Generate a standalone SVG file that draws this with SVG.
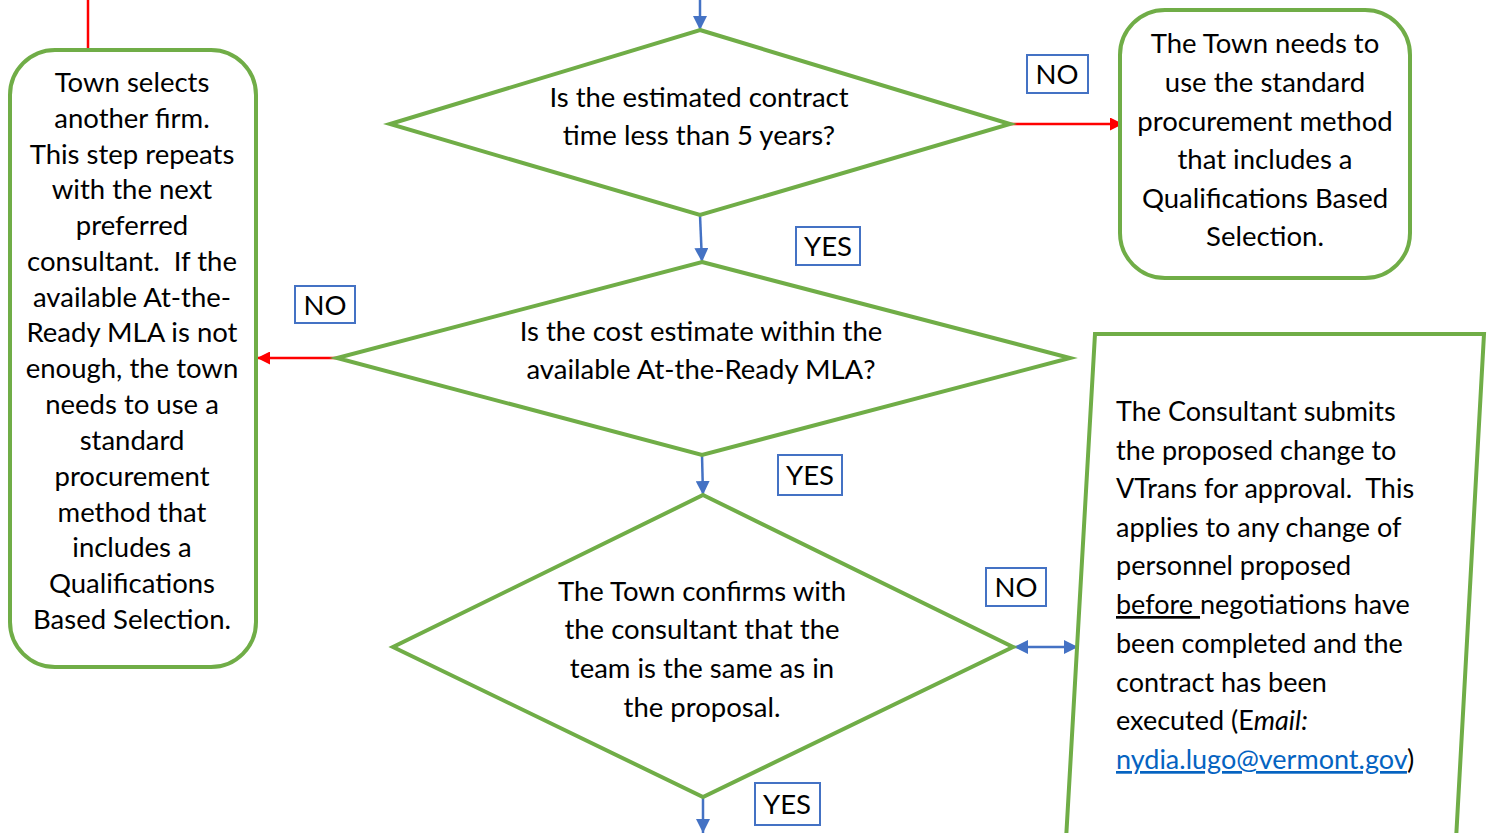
<svg xmlns="http://www.w3.org/2000/svg" width="1489" height="833" viewBox="0 0 1489 833">
<defs>
<style>
.shape{fill:#fff;stroke:#70AD47;stroke-width:4;stroke-linejoin:miter}
.t{font-family:Lato,"Open Sans",sans-serif;font-size:27.5px;fill:#000}
.s{font-size:27px}
.c{text-anchor:middle}
.lbl{fill:#fff;stroke:#4472C4;stroke-width:2}
.red{stroke:#FF0000;stroke-width:2.5;fill:none}
.blue{stroke:#4472C4;stroke-width:2.5;fill:none}
</style>
<marker id="ar" viewBox="0 0 10 10" refX="10" refY="5" markerWidth="14" markerHeight="13" markerUnits="userSpaceOnUse" orient="auto"><path d="M0,0L10,5L0,10z" fill="#FF0000"/></marker>
<marker id="ab" viewBox="0 0 10 10" refX="10" refY="5" markerWidth="14" markerHeight="14" markerUnits="userSpaceOnUse" orient="auto"><path d="M0,0L10,5L0,10z" fill="#4472C4"/></marker>
<marker id="ab2" viewBox="0 0 10 10" refX="0" refY="5" markerWidth="14" markerHeight="14" markerUnits="userSpaceOnUse" orient="auto"><path d="M10,0L0,5L10,10z" fill="#4472C4"/></marker>
</defs>
<rect width="1489" height="833" fill="#fff"/>
<g id="connectors">
<line class="red" x1="88" y1="0" x2="88" y2="48"/>
<line class="red" x1="1010" y1="124" x2="1123" y2="124" marker-end="url(#ar)"/>
<line class="red" x1="337" y1="358" x2="257" y2="358" marker-end="url(#ar)"/>
<line class="blue" x1="700" y1="0" x2="700" y2="30" marker-end="url(#ab)"/>
<line class="blue" x1="700" y1="215" x2="702" y2="262" marker-end="url(#ab)"/>
<line class="blue" x1="702" y1="455" x2="703" y2="495" marker-end="url(#ab)"/>
<line class="blue" x1="703" y1="797" x2="703" y2="833" marker-end="url(#ab)"/>
<line class="blue" x1="1014" y1="647" x2="1078" y2="647" marker-start="url(#ab2)" marker-end="url(#ab)"/>
</g>
<g id="node-left">
<rect class="shape" x="10" y="50" width="246" height="617" rx="45"/>
<text class="t c" x="132" y="92">Town selects</text>
<text class="t c" x="132" y="128">another firm.</text>
<text class="t c" x="132" y="164">This step repeats</text>
<text class="t c" x="132" y="199">with the next</text>
<text class="t c" x="132" y="235">preferred</text>
<text class="t c" x="132" y="271">consultant.&#160; If the</text>
<text class="t c" x="132" y="307">available At-the-</text>
<text class="t c" x="132" y="342">Ready MLA is not</text>
<text class="t c" x="132" y="378">enough, the town</text>
<text class="t c" x="132" y="414">needs to use a</text>
<text class="t c" x="132" y="450">standard</text>
<text class="t c" x="132" y="486">procurement</text>
<text class="t c" x="132" y="522">method that</text>
<text class="t c" x="132" y="557">includes a</text>
<text class="t c" x="132" y="593">Qualifications</text>
<text class="t c" x="132" y="629">Based Selection.</text>
</g>
<g id="node-d1">
<polygon class="shape" points="700,30 1010,124 700,215 390,124"/>
<text class="t c" x="699" y="107">Is the estimated contract</text>
<text class="t c" x="699" y="145">time less than 5 years?</text>
</g>
<g id="node-topright">
<rect class="shape" x="1120" y="10" width="290" height="268" rx="45"/>
<text class="t c" x="1265" y="53">The Town needs to</text>
<text class="t c" x="1265" y="92">use the standard</text>
<text class="t c" x="1265" y="131">procurement method</text>
<text class="t c" x="1265" y="169">that includes a</text>
<text class="t c" x="1265" y="208">Qualifications Based</text>
<text class="t c" x="1265" y="246">Selection.</text>
</g>
<g id="node-d2">
<polygon class="shape" points="702,262 1070,358 702,455 337,358"/>
<text class="t c" x="701" y="341">Is the cost estimate within the</text>
<text class="t c" x="701" y="379">available At-the-Ready MLA?</text>
</g>
<g id="node-d3">
<polygon class="shape" points="703,495 1013,647 703,797 393,647"/>
<text class="t c" x="702" y="601">The Town confirms with</text>
<text class="t c" x="702" y="639">the consultant that the</text>
<text class="t c" x="702" y="678">team is the same as in</text>
<text class="t c" x="702" y="717">the proposal.</text>
</g>
<g id="node-right">
<polygon class="shape" points="1095,334 1484,334 1456,840 1066,840"/>
<text class="t s" x="1116" y="421">The Consultant submits</text>
<text class="t s" x="1116" y="460">the proposed change to</text>
<text class="t s" x="1116" y="498">VTrans for approval.&#160; This</text>
<text class="t s" x="1116" y="537">applies to any change of</text>
<text class="t s" x="1116" y="575">personnel proposed</text>
<text class="t s" x="1116" y="614"><tspan text-decoration="underline">before&#160;</tspan><tspan>negotiations have</tspan></text>
<text class="t s" x="1116" y="653">been completed and the</text>
<text class="t s" x="1116" y="692">contract has been</text>
<text class="t s" x="1116" y="730"><tspan>executed (E</tspan><tspan font-style="italic">mail:</tspan></text>
<text class="t s" x="1116" y="769"><tspan fill="#0563C1" text-decoration="underline">nydia.lugo@vermont.gov</tspan><tspan>)</tspan></text>
</g>
<g id="labels">
<g id="lbl-no1"><rect class="lbl" x="1027" y="55" width="61" height="38"/><text class="t c" x="1057" y="84">NO</text></g>
<g id="lbl-yes1"><rect class="lbl" x="796" y="227" width="64" height="38"/><text class="t c" x="828" y="256">YES</text></g>
<g id="lbl-no2"><rect class="lbl" x="295" y="286" width="60" height="37"/><text class="t c" x="325" y="315">NO</text></g>
<g id="lbl-yes2"><rect class="lbl" x="778" y="455" width="64" height="40"/><text class="t c" x="810" y="485">YES</text></g>
<g id="lbl-no3"><rect class="lbl" x="986" y="568" width="60" height="38"/><text class="t c" x="1016" y="597">NO</text></g>
<g id="lbl-yes3"><rect class="lbl" x="755" y="783" width="65" height="42"/><text class="t c" x="787" y="814">YES</text></g>
</g>
</svg>
